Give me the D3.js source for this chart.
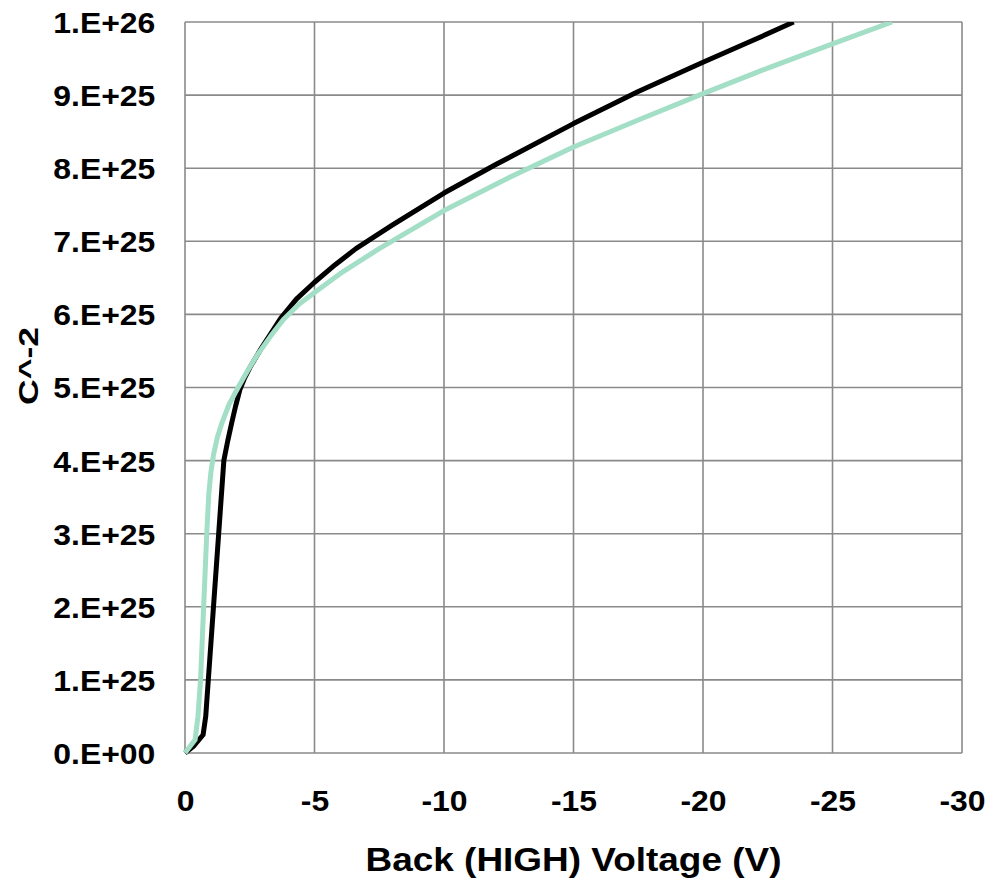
<!DOCTYPE html>
<html>
<head>
<meta charset="utf-8">
<script src="https://cdn.jsdelivr.net/npm/d3@7"></script>
<style>
  html, body { margin: 0; padding: 0; background: #fff; }
  svg { display: block; font-family: Arial, "Liberation Sans", sans-serif; font-weight: bold; }
</style>
</head>
<body>
<svg id="chart" width="988" height="881"></svg>
<script>
// ---- Data ----
const blackVoltage = [0, -0.35, -0.7, -0.8, -0.9, -1.0, -1.1, -1.3, -1.5, -1.65, -1.8, -1.95, -2.12, -2.3, -2.5, -2.9, -3.3, -3.7, -4.3, -5, -5.8, -6.6, -8, -10, -12, -15, -17.5, -20, -22, -23.5];
const blackC2 = [0, 0.1e25, 0.25e25, 0.5e25, 1.0e25, 1.5e25, 2.0e25, 3.0e25, 4.0e25, 4.27e25, 4.51e25, 4.74e25, 4.97e25, 5.13e25, 5.27e25, 5.51e25, 5.73e25, 5.95e25, 6.21e25, 6.44e25, 6.68e25, 6.9e25, 7.22e25, 7.66e25, 8.05e25, 8.61e25, 9.05e25, 9.45e25, 9.76e25, 1.0e26];

const greenVoltage = [0, -0.39, -0.5, -0.6, -0.72, -0.84, -0.92, -1.0, -1.1, -1.25, -1.42, -1.7, -2.05, -2.4, -2.8, -3.3, -3.8, -4.4, -5, -6, -7.5, -10, -12.5, -15, -17.5, -20, -22.5, -25, -27.3];
const greenC2 = [0, 0.18e25, 0.5e25, 1.0e25, 2.0e25, 3.0e25, 3.55e25, 3.84e25, 4.08e25, 4.32e25, 4.51e25, 4.77e25, 5.0e25, 5.22e25, 5.45e25, 5.7e25, 5.93e25, 6.14e25, 6.3e25, 6.56e25, 6.9e25, 7.42e25, 7.87e25, 8.29e25, 8.66e25, 9.02e25, 9.37e25, 9.7e25, 1.0e26];

const xTicks = [0, -5, -10, -15, -20, -25, -30];
const xTickLabels = ["0", "-5", "-10", "-15", "-20", "-25", "-30"];
const yTicks = [0, 1e25, 2e25, 3e25, 4e25, 5e25, 6e25, 7e25, 8e25, 9e25, 1e26];
const yTickLabels = ["0.E+00", "1.E+25", "2.E+25", "3.E+25", "4.E+25", "5.E+25", "6.E+25", "7.E+25", "8.E+25", "9.E+25", "1.E+26"];

const xTitle = "Back (HIGH) Voltage (V)";
const yTitle = "C^-2";

// ---- Layout ----
const plotL = 185, plotR = 962, plotT = 22, plotB = 753;
const svg = d3.select("#chart");

const x = d3.scaleLinear().domain([0, -30]).range([plotL, plotR]);
const y = d3.scaleLinear().domain([0, 1e26]).range([plotB, plotT]);

const gridColor = "#8a8a8a";

// Grid lines
svg.append("g").selectAll("line").data(yTicks).join("line")
  .attr("x1", plotL).attr("x2", plotR)
  .attr("y1", d => y(d)).attr("y2", d => y(d))
  .attr("stroke", gridColor).attr("stroke-width", 1.6);
svg.append("g").selectAll("line").data(xTicks).join("line")
  .attr("x1", d => x(d)).attr("x2", d => x(d))
  .attr("y1", plotT).attr("y2", plotB)
  .attr("stroke", gridColor).attr("stroke-width", 1.6);

// Axes (labels only)
const yAxis = d3.axisLeft(y).tickValues(yTicks)
  .tickFormat((d, i) => yTickLabels[i]).tickSize(0).tickPadding(0);
const gy = svg.append("g").attr("transform", `translate(${plotL},0)`).call(yAxis);
gy.select(".domain").remove();
gy.selectAll("text")
  .attr("x", -27).attr("dy", "0.36em")
  .attr("transform", "scale(1.1,1)")
  .style("font-size", "29px").style("font-weight", "bold")
  .style("font-family", "Arial, 'Liberation Sans', sans-serif")
  .attr("fill", "#000");

const xAxis = d3.axisBottom(x).tickValues(xTicks)
  .tickFormat((d, i) => xTickLabels[i]).tickSize(0).tickPadding(0);
const gx = svg.append("g").attr("transform", `translate(0,${plotB})`).call(xAxis);
gx.select(".domain").remove();
gx.selectAll("text")
  .attr("y", 58).attr("dy", "0")
  .attr("transform", "scale(1.1,1)")
  .style("font-size", "29px").style("font-weight", "bold")
  .style("font-family", "Arial, 'Liberation Sans', sans-serif")
  .attr("fill", "#000");

// Axis titles
svg.append("text")
  .attr("transform", `translate(${(plotL + plotR) / 2},871) scale(1.12,1)`)
  .attr("text-anchor", "middle")
  .style("font-size", "33px")
  .attr("fill", "#000")
  .text(xTitle);

svg.append("text")
  .attr("transform", `translate(38,366) rotate(-90)`)
  .attr("text-anchor", "middle")
  .attr("textLength", 78).attr("lengthAdjust", "spacingAndGlyphs")
  .style("font-size", "28px")
  .attr("fill", "#000")
  .text(yTitle);

// Curves
svg.append("clipPath").attr("id", "plotclip").append("rect")
  .attr("x", plotL - 5).attr("y", plotT).attr("width", plotR - plotL + 10).attr("height", plotB - plotT + 5);

const line = d3.line().x(d => x(d[0])).y(d => y(d[1]));

const blackData = blackVoltage.map((v, i) => [v, blackC2[i]]);
const greenData = greenVoltage.map((v, i) => [v, greenC2[i]]);

const curves = svg.append("g").attr("clip-path", "url(#plotclip)");
curves.append("path").datum(blackData)
  .attr("d", line).attr("fill", "none")
  .attr("stroke", "#000").attr("stroke-width", 5)
  .attr("stroke-linejoin", "round");
curves.append("path").datum(greenData)
  .attr("d", line).attr("fill", "none")
  .attr("stroke", "#a3dec6").attr("stroke-width", 5)
  .attr("stroke-linejoin", "round");
</script>
</body>
</html>
